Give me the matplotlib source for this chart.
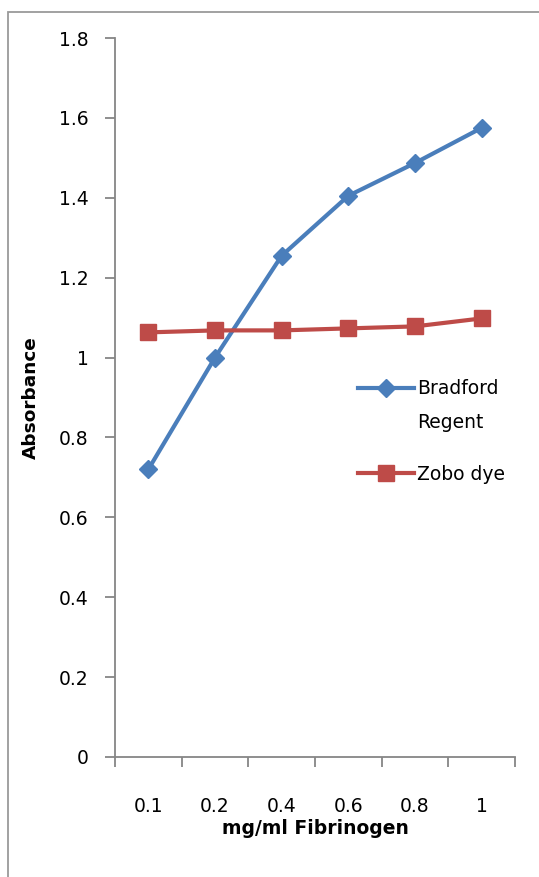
import matplotlib
matplotlib.use("Agg")
import matplotlib.pyplot as plt
from matplotlib.patches import Rectangle
from matplotlib.legend_handler import HandlerLine2D

categories = ["0.1", "0.2", "0.4", "0.6", "0.8", "1"]
bradford = [0.72, 1.00, 1.255, 1.405, 1.487, 1.575]
zobo = [1.063, 1.068, 1.068, 1.073, 1.078, 1.098]
yticks = [0, 0.2, 0.4, 0.6, 0.8, 1.0, 1.2, 1.4, 1.6, 1.8]
ytick_labels = ["0", "0.2", "0.4", "0.6", "0.8", "1", "1.2", "1.4", "1.6", "1.8"]

plt.rcParams['font.family'] = ['DejaVu Sans']


class ShiftedHandler(HandlerLine2D):
    def __init__(self, dy=0, **kw):
        super().__init__(**kw)
        self.dy = dy

    def create_artists(self, *args, **kw):
        arts = super().create_artists(*args, **kw)
        for a in arts:
            a.set_ydata([y + self.dy for y in a.get_ydata()])
        return arts


fig = plt.figure(figsize=(5.39, 8.77), dpi=100)
fig.patches.append(Rectangle((8/539, -0.1), 1.2, 1 - 12/877 + 0.1, transform=fig.transFigure,
                             fill=False, edgecolor='#9a9a9a', linewidth=1.3))
ax = fig.add_axes([115/539, 1 - 757/877, 400/539, (757 - 38)/877])

x = list(range(len(categories)))
l1, = ax.plot(x, bradford, color='#4A7EBB', linewidth=3, marker='D', markersize=9,
              markerfacecolor='#4A7EBB', markeredgecolor='#4A7EBB', label='Bradford\nRegent')
l2, = ax.plot(x, zobo, color='#BE4B48', linewidth=3, marker='s', markersize=11,
              markerfacecolor='#BE4B48', markeredgecolor='#BE4B48', label='Zobo dye')

ax.set_xlim(-0.5, len(categories) - 0.5)
ax.set_ylim(0, 1.8)
ax.set_yticks(yticks)
ax.set_yticklabels(ytick_labels)
ax.set_xticks([i - 0.5 for i in range(len(categories) + 1)])
ax.set_xticklabels([])
ax.set_xticks(x, minor=True)
ax.set_xticklabels(categories, minor=True)

for s in ['top', 'right']:
    ax.spines[s].set_visible(False)
for s in ['left', 'bottom']:
    ax.spines[s].set_color('#868686')
    ax.spines[s].set_linewidth(1.3)

ax.tick_params(axis='y', which='major', direction='out', length=7, width=1.3, color='#868686',
               labelsize=13.5, pad=12, labelcolor='#000000')
ax.tick_params(axis='x', which='major', direction='out', length=7, width=1.3, color='#868686')
ax.tick_params(axis='x', which='minor', length=0, labelsize=13.5, pad=29)

ax.set_ylabel('Absorbance', fontsize=13.3, fontweight='bold', labelpad=14)
ax.set_xlabel('mg/ml Fibrinogen', fontsize=13.5, fontweight='bold', labelpad=2)

leg = ax.legend(handles=[l1, l2], loc='upper left', bbox_to_anchor=(358/539, 1 - 379/877),
                bbox_transform=fig.transFigure,
                handler_map={l1: ShiftedHandler(dy=13), l2: HandlerLine2D()},
                frameon=False, fontsize=13.5, handlelength=3.0, handletextpad=0.15, labelspacing=1.75,
                borderpad=0, borderaxespad=0)
leg.get_texts()[0].set_linespacing(2.0)

fig.savefig('out.png', dpi=100)
